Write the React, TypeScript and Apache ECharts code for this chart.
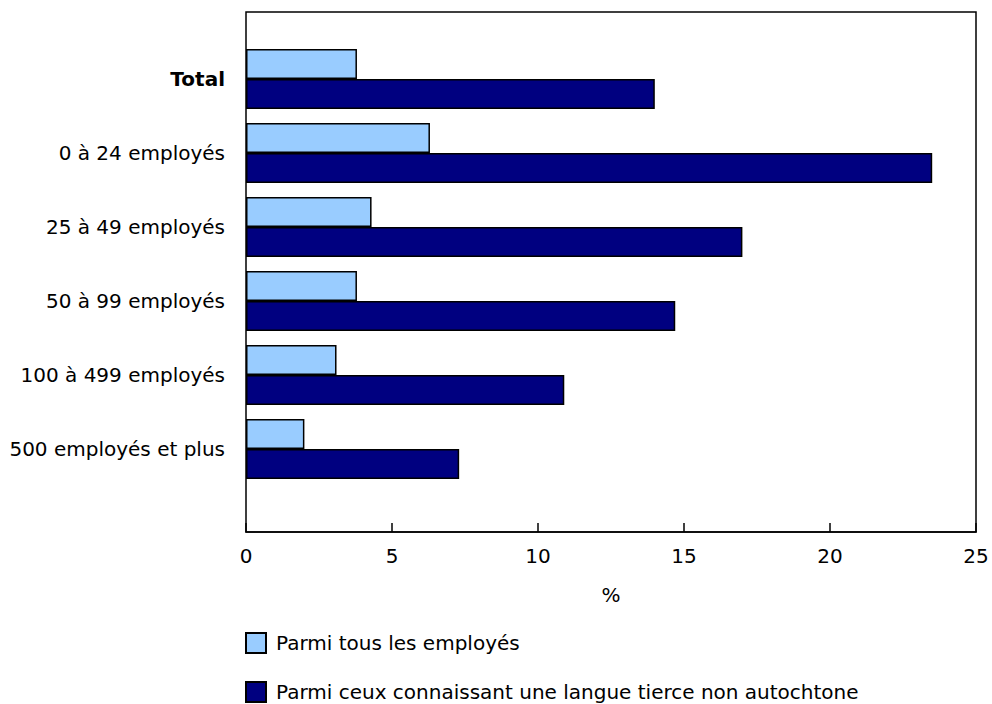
import React, { useEffect, useRef } from "react";
import * as echarts from "echarts";

const categories = [
  "Total",
  "0 à 24 employés",
  "25 à 49 employés",
  "50 à 99 employés",
  "100 à 499 employés",
  "500 employés et plus",
];
const seriesNames = [
  "Parmi tous les employés",
  "Parmi ceux connaissant une langue tierce non autochtone",
];
const allEmployees = [3.8, 6.3, 4.3, 3.8, 3.1, 2.0];
const thirdLanguage = [14.0, 23.5, 17.0, 14.7, 10.9, 7.3];
const xTicks = [0, 5, 10, 15, 20, 25];

const FONT = "'DejaVu Sans', Verdana, sans-serif";
const FS = 20;

export default function App() {
  const ref = useRef<HTMLDivElement>(null);
  useEffect(() => {
    if (!ref.current) return;
    const chart = echarts.init(ref.current, null, { renderer: "svg" });
    const legendBase = {
      orient: "vertical",
      left: 245,
      padding: 0,
      itemWidth: 20,
      itemHeight: 20,
      icon: "rect",
      textStyle: { fontSize: FS, color: "#000", fontFamily: FONT, padding: [0, 0, 0, 5] },
    };
    chart.setOption({
      animation: false,
      backgroundColor: "#ffffff",
      textStyle: { fontFamily: FONT, color: "#000" },
      grid: { left: 246, right: 16, top: 42, bottom: 218, containLabel: false },
      xAxis: {
        type: "value",
        min: xTicks[0],
        max: xTicks[xTicks.length - 1],
        interval: 5,
        offset: 46,
        name: "%",
        nameLocation: "middle",
        nameGap: 53,
        nameTextStyle: { fontSize: FS, color: "#000", fontFamily: FONT },
        axisLine: { show: true, lineStyle: { color: "#000", width: 1.5 } },
        axisTick: { show: true, inside: true, length: 9, lineStyle: { color: "#000", width: 1.5 } },
        axisLabel: { fontSize: FS, color: "#000", margin: 14, fontFamily: FONT },
        splitLine: { show: false },
      },
      yAxis: {
        type: "category",
        data: categories,
        inverse: true,
        axisLine: { show: false },
        axisTick: { show: false },
        axisLabel: {
          fontSize: FS,
          color: "#000",
          margin: 21,
          fontFamily: FONT,
          formatter: (v: string) => (v === "Total" ? "{b|" + v + "}" : v),
          rich: { b: { fontWeight: "bold", fontSize: FS, fontFamily: FONT, color: "#000" } },
        },
      },
      legend: [
        { ...legendBase, top: 632, data: [seriesNames[0]] },
        { ...legendBase, top: 681, data: [seriesNames[1]] },
      ],
      graphic: [
        {
          type: "rect",
          shape: { x: 246, y: 12, width: 730, height: 520 },
          style: { fill: "none", stroke: "#000", lineWidth: 1.5 },
          silent: true,
          z: 100,
        },
      ],
      series: [
        {
          name: seriesNames[0],
          type: "bar",
          data: allEmployees,
          barWidth: 30,
          barGap: "0%",
          itemStyle: { color: "#99CCFF", borderColor: "#000", borderWidth: 1.5 },
        },
        {
          name: seriesNames[1],
          type: "bar",
          data: thirdLanguage,
          barWidth: 30,
          barGap: "0%",
          itemStyle: { color: "#000080", borderColor: "#000", borderWidth: 1.5 },
        },
      ],
    });
    return () => chart.dispose();
  }, []);
  return (
    <div
      ref={ref}
      style={{ position: "absolute", left: 0, top: 0, width: 992, height: 704 }}
    />
  );
}
